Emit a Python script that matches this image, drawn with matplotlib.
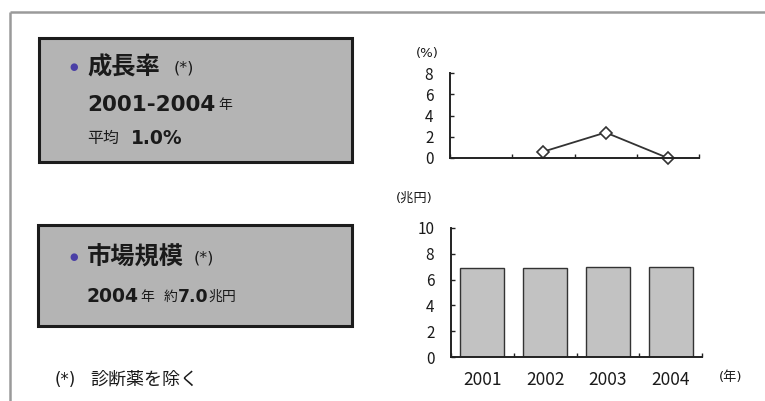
import numpy as np
import matplotlib
matplotlib.use("Agg")
import matplotlib.pyplot as plt
from matplotlib.patches import Rectangle

plt.rcParams['font.family'] = ['DejaVu Sans', 'Noto Sans CJK JP']

# data
years = ["2001", "2002", "2003", "2004"]
growth = [np.nan, 0.6, 2.4, 0.0]       # 成長率 (%)
market = [6.9, 6.9, 7.0, 7.0]          # 市場規模 (兆円)

W, H = 765, 401
fig = plt.figure(figsize=(W / 100, H / 100), dpi=100)
renderer = fig.canvas.get_renderer()

# background layer in pixel coords
bg = fig.add_axes([0, 0, 1, 1], zorder=0)
bg.set_xlim(0, W)
bg.set_ylim(H, 0)
bg.axis("off")

FRAME = "#9a9a9a"
bg.plot([10, W], [12, 12], color=FRAME, lw=1.8, solid_capstyle="butt")
bg.plot([10, 10], [12, H], color=FRAME, lw=1.8, solid_capstyle="butt")

BOX_FILL = "#b4b4b4"
BOX_EDGE = "#1c1c1c"
bg.add_patch(Rectangle((39, 38), 313, 124, facecolor=BOX_FILL, edgecolor=BOX_EDGE, lw=2.2))
bg.add_patch(Rectangle((38, 225), 314, 101, facecolor=BOX_FILL, edgecolor=BOX_EDGE, lw=2.2))

BULLET = "#4a3fa6"
TXT = "#1a1a1a"


def put(x, y, s, size, bold=False, color=TXT):
    return bg.text(x, y, s, fontsize=size, fontweight="bold" if bold else "normal",
                   color=color, ha="left", va="center")


def chain(x, y, pieces):
    # pieces: (text, size, bold, gap after)
    for s, size, bold, gap in pieces:
        t = put(x, y, s, size, bold)
        x = t.get_window_extent(renderer=renderer).x1 + gap


# box 1
put(69, 67, "●", 7, color=BULLET)
chain(87, 68, [("成長率", 17.5, True, 14), ("(*)", 11.5, False, 0)])
chain(87, 105, [("2001-2004", 15.5, True, 3), ("年", 10, False, 0)])
chain(87, 138, [("平均", 11.5, False, 12), ("1.0%", 13.5, True, 0)])

# box 2
put(69, 257, "●", 7, color=BULLET)
chain(87, 258, [("市場規模", 17.5, True, 10), ("(*)", 11.5, False, 0)])
chain(87, 297, [("2004", 13.5, True, 1), ("年", 10, False, 10),
                ("約", 10, False, 0), ("7.0", 12.5, True, 0), ("兆円", 10, False, 0)])

# footnote
chain(55, 380, [("(*)", 12, False, 14), ("診断薬を除く", 13, False, 0)])

AX_COLOR = "#222222"
TICK_FONT = ['Noto Sans CJK JP']


def style_axes(ax):
    for side in ("top", "right"):
        ax.spines[side].set_visible(False)
    for side in ("left", "bottom"):
        ax.spines[side].set_color(AX_COLOR)
        ax.spines[side].set_linewidth(1.4)
    ax.set_xticks(np.arange(len(years) + 1) - 0.5)
    ax.set_xticklabels([])
    ax.tick_params(axis="x", direction="in", length=3, width=1, color=AX_COLOR)
    ax.tick_params(axis="y", direction="in", length=3, width=1, color=AX_COLOR,
                   pad=12, labelsize=11, labelcolor=TXT)
    for lab in ax.get_yticklabels():
        lab.set_family(TICK_FONT)
    ax.set_xlim(-0.5, len(years) - 0.5)
    ax.patch.set_alpha(0)


# growth rate line chart
ax1 = fig.add_axes([450 / W, (H - 158) / H, 249 / W, 85 / H], zorder=2)
x = np.arange(len(years))
ax1.plot(x, growth, color="#333333", lw=1.3, marker="D", ms=6,
         mfc="white", mec="#333333", mew=1.2, clip_on=False)
ax1.set_ylim(0, 8)
ax1.set_yticks([0, 2, 4, 6, 8])
style_axes(ax1)
bg.text(427, 53, "(%)", fontsize=9.5, color=TXT, ha="center", va="center")

# market size bar chart
ax2 = fig.add_axes([451 / W, (H - 357) / H, 251 / W, 129 / H], zorder=2)
ax2.bar(x, market, width=0.7, color="#c2c2c2", edgecolor="#333333", lw=1)
ax2.set_ylim(0, 10)
ax2.set_yticks([0, 2, 4, 6, 8, 10])
style_axes(ax2)
for xi, yr in zip(x, years):
    ax2.text(xi, -1.1, yr, transform=ax2.transData, fontsize=12.5, family=TICK_FONT,
             color=TXT, ha="center", va="top")
bg.text(414, 198, "(兆円)", fontsize=9.5, color=TXT, ha="center", va="center")
bg.text(731, 378, "(年)", fontsize=9.5, color=TXT, ha="center", va="center")

fig.savefig("out.png", dpi=100, facecolor="white")
